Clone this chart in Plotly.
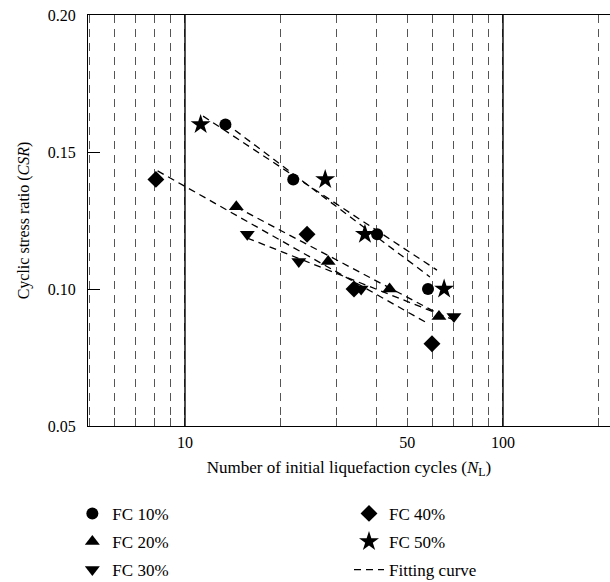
import plotly.graph_objects as go

# ---- data ----
fc_labels = ["FC 10%", "FC 20%", "FC 30%", "FC 40%", "FC 50%"]
fc_symbols = ["circle", "triangle-up", "triangle-down", "diamond", "star"]

n_fc10 = [13.4, 21.9, 40.2, 58.1]
csr_fc10 = [0.16, 0.14, 0.12, 0.10]
n_fc20 = [14.5, 28.2, 44.0, 62.9]
csr_fc20 = [0.13, 0.11, 0.10, 0.09]
n_fc30 = [15.7, 22.8, 35.8, 70.1]
csr_fc30 = [0.12, 0.11, 0.10, 0.09]
n_fc40 = [8.1, 24.2, 34.0, 59.8]
csr_fc40 = [0.14, 0.12, 0.10, 0.08]
n_fc50 = [11.2, 27.6, 36.8, 65.3]
csr_fc50 = [0.16, 0.14, 0.12, 0.10]

# fitting-curve end points (FC10, FC20, FC30, FC40, FC50)
fit_n_start = [13.4, 14.5, 15.7, 8.2, 11.4]
fit_n_end = [58.9, 62.9, 70.1, 56.9, 62.0]
fit_csr_start = [0.1606, 0.1299, 0.1186, 0.1431, 0.1631]
fit_csr_end = [0.1044, 0.0909, 0.0887, 0.0880, 0.1069]

x_tick_vals = [10, 50, 100, 200]
x_tick_text = ["10", "50", "100", "200"]
x_minor_vals = [5, 6, 7, 8, 9, 20, 30, 40, 60, 70, 80, 90]
x_solid_lines = [10, 100]
y_tick_vals = [0.05, 0.10, 0.15, 0.20]

series_n = [n_fc10, n_fc20, n_fc30, n_fc40, n_fc50]
series_csr = [csr_fc10, csr_fc20, csr_fc30, csr_fc40, csr_fc50]

FONT = "Liberation Serif, DejaVu Serif, serif"
marker_sizes = [12, 13, 13, 13, 15]
legend_of = ["legend", "legend", "legend", "legend2", "legend2"]

fig = go.Figure()

# fitting curves first (below markers)
for i in range(5):
    fig.add_trace(go.Scatter(
        x=[fit_n_start[i], fit_n_end[i]],
        y=[fit_csr_start[i], fit_csr_end[i]],
        mode="lines",
        line=dict(color="black", width=1.3, dash="7px,5px"),
        name="Fitting curve",
        legend="legend2",
        legendgroup="fit",
        legendrank=10,
        showlegend=(i == 0),
        hoverinfo="skip",
    ))

for i in range(5):
    fig.add_trace(go.Scatter(
        x=series_n[i], y=series_csr[i],
        mode="markers",
        marker=dict(symbol=fc_symbols[i], size=marker_sizes[i], color="black",
                    line=dict(width=0)),
        name=fc_labels[i],
        legend=legend_of[i],
        legendgroup=fc_labels[i],
        legendrank=i + 1,
    ))

shapes = []
for v in x_solid_lines:
    shapes.append(dict(type="line", xref="x", yref="paper",
                       x0=v, x1=v, y0=0, y1=1,
                       line=dict(color="black", width=1.4), layer="above"))

legend_common = dict(
    font=dict(family=FONT, size=17, color="black"),
    bgcolor="rgba(0,0,0,0)",
    borderwidth=0,
    orientation="v",
    tracegroupgap=3,
    yanchor="top",
    xanchor="left",
)

fig.update_layout(
    width=610, height=582,
    margin=dict(l=88, r=0, t=15, b=156, autoexpand=False),
    paper_bgcolor="white", plot_bgcolor="white",
    font=dict(family=FONT, size=16, color="black"),
    showlegend=True,
    shapes=shapes,
    legend=dict(x=-0.03, y=-0.170, **legend_common),
    legend2=dict(x=0.50, y=-0.170, **legend_common),
    xaxis=dict(
        type="log",
        range=[0.695, 2.3365],
        tickmode="array",
        tickvals=x_tick_vals,
        ticktext=x_tick_text,
        ticks="inside", ticklen=8, tickcolor="#555555",
        showgrid=True, gridcolor="#555555", gridwidth=1, griddash="8px,6px",
        minor=dict(tickmode="array", tickvals=x_minor_vals,
                   ticks="inside", ticklen=8, tickcolor="#555555",
                   showgrid=True, gridcolor="#555555", gridwidth=1,
                   griddash="8px,6px"),
        showline=True, linecolor="black", linewidth=1.3, mirror=True,
        zeroline=False,
        ticklabelstandoff=2,
        tickfont=dict(family=FONT, size=16, color="black"),
        title=dict(text="Number of initial liquefaction cycles (<i>N</i><sub>L</sub>)",
                   font=dict(family=FONT, size=17, color="black"), standoff=10),
    ),
    yaxis=dict(
        range=[0.05, 0.20],
        tickmode="array",
        tickvals=y_tick_vals,
        tickformat=".2f",
        ticks="inside", ticklen=12, tickcolor="black",
        showgrid=False, zeroline=False,
        showline=True, linecolor="black", linewidth=1.3, mirror=False,
        ticklabelstandoff=8,
        tickfont=dict(family=FONT, size=16, color="black"),
        title=dict(text="Cyclic stress ratio (<i>CSR</i>)",
                   font=dict(family=FONT, size=16, color="black"), standoff=14),
    ),
)

fig.write_html("out.html")
